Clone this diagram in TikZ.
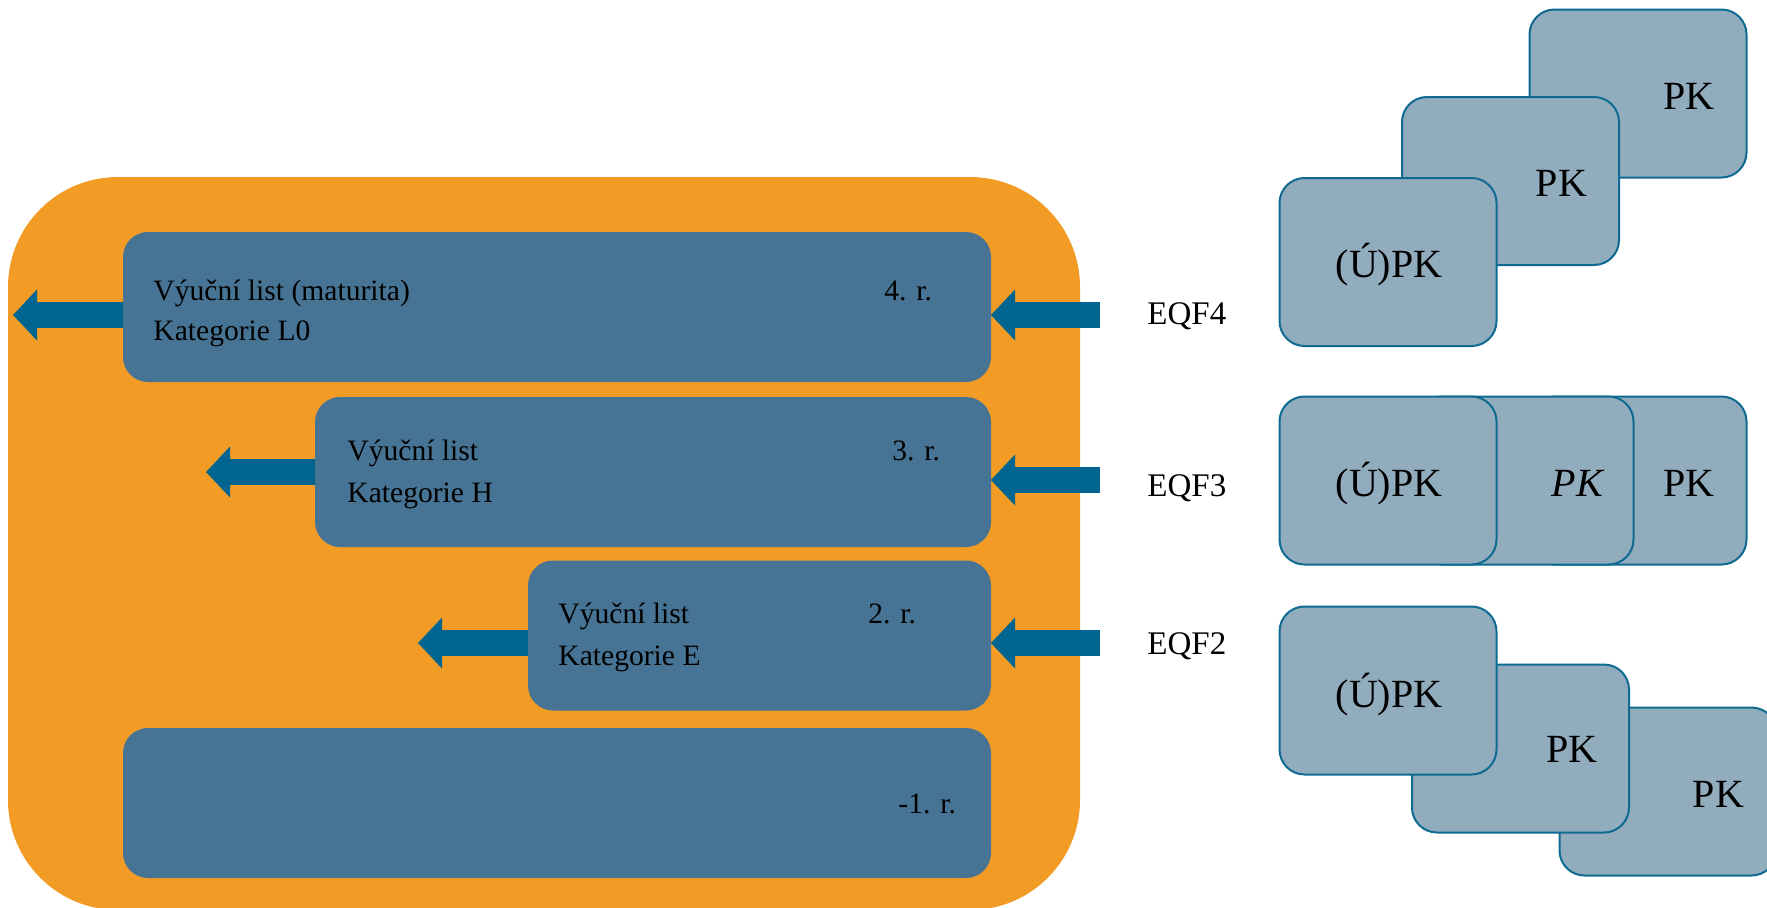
\documentclass[tikz,border=0pt]{standalone}
\usepackage{fontspec}
\setmainfont{Liberation Serif}
\usetikzlibrary{arrows.meta}
\definecolor{orangebg}{RGB}{242,155,37}
\definecolor{stageblue}{RGB}{71,116,148}
\definecolor{arrowblue}{RGB}{0,102,145}
\definecolor{pkfill}{RGB}{145,172,189}
\definecolor{pkedge}{RGB}{14,106,145}
\begin{document}
\begin{tikzpicture}[x=0.5pt,y=-0.5pt,
  frame/.style={fill=orangebg, rounded corners=55pt, inner sep=0pt, outer sep=0pt, minimum width=536pt, minimum height=366.5pt},
  stage/.style={fill=stageblue, rounded corners=12.5pt, inner sep=0pt, outer sep=0pt, minimum height=75pt},
  pk/.style={fill=pkfill, draw=pkedge, line width=1pt, rounded corners=12.5pt, inner sep=0pt, outer sep=0pt, minimum width=108.5pt, minimum height=84pt},
  flow/.style={draw=arrowblue, line width=13pt, -{Triangle[width=25.5pt,length=12pt,line width=0pt]}},
  txt/.style={inner sep=0pt, anchor=base west, font=\fontsize{14.8}{20}\selectfont},
  eqf/.style={inner sep=0pt, anchor=base west, font=\fontsize{16.5}{20}\selectfont},
  pktxt/.style={inner sep=0pt, anchor=base, font=\fontsize{20}{24}\selectfont},
]
\useasboundingbox (0,0) rectangle (1767,907);
\clip (0,0) rectangle (1767,907);

% orange frame
\node[frame] (frame) at (544,543.5) {};

% stage boxes
\node[stage, minimum width=434pt] (b4) at (557,307) {};
\node[stage, minimum width=338pt] (b3) at (653,472) {};
\node[stage, minimum width=231.5pt] (b2) at (759.5,635.5) {};
\node[stage, minimum width=434pt] (b1) at (557,803) {};

% texts in stage boxes
\node[txt] (t4a) at (153,300) {Výuční list (maturita)};
\node[txt] (t4b) at (153,340) {Kategorie L0};
\node[txt] (y4) at (884,300) {4. r.};
\node[txt] (t3a) at (347,460) {Výuční list};
\node[txt] (t3b) at (347,502) {Kategorie H};
\node[txt] (y3) at (892,460) {3. r.};
\node[txt] (t2a) at (558,623) {Výuční list};
\node[txt] (t2b) at (558,665) {Kategorie E};
\node[txt] (y2) at (868,623) {2. r.};
\node[txt] (y1) at (898,813) {-1. r.};

% outgoing arrows (left)
\coordinate (l4) at (13,315);
\coordinate (l3) at (206,472);
\coordinate (l2) at (418,643);
\draw[flow] (b4.west |- l4) -- (l4);
\draw[flow] (b3.west |- l3) -- (l3);
\draw[flow] (b2.west |- l2) -- (l2);

% incoming arrows (right)
\coordinate (r4) at (1100,315);
\coordinate (r3) at (1100,480);
\coordinate (r2) at (1100,643);
\draw[flow] (r4) -- (r4 -| b4.east);
\draw[flow] (r3) -- (r3 -| b3.east);
\draw[flow] (r2) -- (r2 -| b2.east);

% EQF labels
\node[eqf] (eqf4) at (1147,324) {EQF4};
\node[eqf] (eqf3) at (1147,496) {EQF3};
\node[eqf] (eqf2) at (1147,654) {EQF2};

% PK stack, EQF4 row
\node[pk] (p4a) at (1638,93.5) {};
\node[pktxt] (p4at) at (1689,109) {PK};
\node[pk] (p4b) at (1510.5,181) {};
\node[pktxt] (p4bt) at (1561.5,196) {PK};
\node[pk] (p4c) at (1388,262) {};
\node[pktxt] (p4ct) at (1389,277) {(Ú)PK};

% PK stack, EQF3 row
\node[pk] (p3a) at (1638,480.5) {};
\node[pktxt] (p3at) at (1689,496) {PK};
\node[pk] (p3b) at (1525,480.5) {};
\node[pktxt] (p3bt) at (1577.5,496) {\itshape PK};
\node[pk] (p3c) at (1388,480.5) {};
\node[pktxt] (p3ct) at (1389,496) {(Ú)PK};

% PK stack, EQF2 row
\node[pk] (p2a) at (1668,791.5) {};
\node[pktxt] (p2at) at (1718.5,807) {PK};
\node[pk] (p2b) at (1520.5,748.5) {};
\node[pktxt] (p2bt) at (1572,762) {PK};
\node[pk] (p2c) at (1388,690.5) {};
\node[pktxt] (p2ct) at (1389,707) {(Ú)PK};
\end{tikzpicture}
\end{document}
